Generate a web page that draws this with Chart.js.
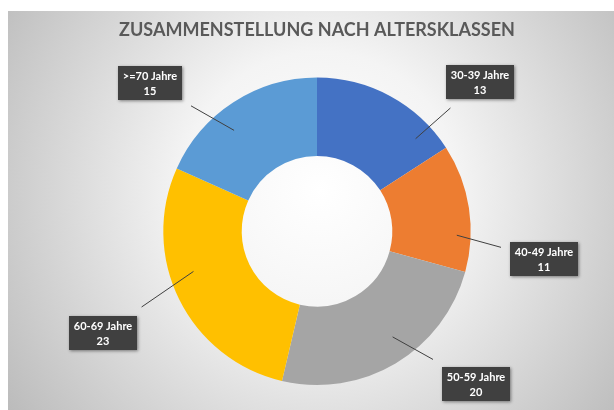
<!DOCTYPE html>
<html>
<head>
<meta charset="utf-8">
<script src="https://cdn.jsdelivr.net/npm/chart.js@4/dist/chart.umd.min.js"></script>
<style>
  html, body { margin: 0; padding: 0; background: #ffffff; }
  #wrap { width: 614px; height: 410px; position: relative; }
</style>
</head>
<body>
<div id="wrap"><canvas id="c" width="614" height="410"></canvas></div>
<script>
// ---- data ----
const titleText = 'ZUSAMMENSTELLUNG NACH ALTERSKLASSEN';
const categories = ['30-39 Jahre', '40-49 Jahre', '50-59 Jahre', '60-69 Jahre', '>=70 Jahre'];
const values = [13, 11, 20, 23, 15];
const colors = ['#4472C4', '#ED7D31', '#A5A5A5', '#FFC000', '#5B9BD5'];

// ---- label layout (polar, relative to the doughnut centre / outer radius) ----
const labelBoxPolar = [[47.5, 1.44], [97, 1.49], [133.7, 1.435], [244.5, 1.54], [311.7, 1.455]];
const leaderStartPolar = [[46.8, 0.88], [91.6, 0.91], [144.4, 0.845], [252, 0.845], [320.6, 0.85]];

const bgPlugin = {
  id: 'bg',
  beforeDraw(chart) {
    const ctx = chart.ctx;
    ctx.save();
    ctx.fillStyle = '#ffffff';
    ctx.fillRect(0, 0, chart.width, chart.height);
    const g = ctx.createRadialGradient(320, 190, 0, 320, 190, 460);
    g.addColorStop(0, '#ffffff');
    g.addColorStop(0.3, '#f4f4f4');
    g.addColorStop(1, '#a9a9a9');
    ctx.fillStyle = g;
    ctx.fillRect(8, 11, chart.width - 8, chart.height - 11);
    ctx.restore();
  }
};

function polar(cx, cy, deg, r) {
  const a = (deg - 90) * Math.PI / 180;
  return { x: cx + Math.cos(a) * r, y: cy + Math.sin(a) * r };
}

const labelPlugin = {
  id: 'boxLabels',
  afterDatasetsDraw(chart) {
    const ctx = chart.ctx;
    const meta = chart.getDatasetMeta(0);
    ctx.save();
    ctx.font = 'bold 11px Lato';
    meta.data.forEach((arc, i) => {
      const p = arc.getProps(['x', 'y', 'outerRadius'], true);
      const cx = p.x, cy = p.y, R = p.outerRadius;
      const line1 = chart.data.labels[i];
      const line2 = String(chart.data.datasets[0].data[i]);
      const tw = Math.max(ctx.measureText(line1).width, ctx.measureText(line2).width);
      const bw = Math.round(tw + 10), bh = 34;
      const c = polar(cx, cy, labelBoxPolar[i][0], R * labelBoxPolar[i][1]);
      const bx = Math.round(c.x - bw / 2), by = Math.round(c.y - bh / 2);
      // leader line
      const s = polar(cx, cy, leaderStartPolar[i][0], R * leaderStartPolar[i][1]);
      const dx = c.x - s.x, dy = c.y - s.y;
      const gap = 9;
      const x0 = bx - gap, x1 = bx + bw + gap, y0 = by - gap, y1 = by + bh + gap;
      let tx = dx > 0 ? (x0 - s.x) / dx : (x1 - s.x) / dx;
      let ty = dy > 0 ? (y0 - s.y) / dy : (y1 - s.y) / dy;
      const t = Math.max(tx, ty);
      ctx.strokeStyle = '#404040';
      ctx.lineWidth = 1;
      ctx.beginPath();
      ctx.moveTo(s.x, s.y);
      ctx.lineTo(s.x + dx * t, s.y + dy * t);
      ctx.stroke();
      // box
      ctx.save();
      ctx.shadowColor = 'rgba(0,0,0,0.45)';
      ctx.shadowBlur = 3;
      ctx.shadowOffsetX = 1;
      ctx.shadowOffsetY = 1;
      ctx.fillStyle = '#404040';
      ctx.fillRect(bx, by, bw, bh);
      ctx.restore();
      ctx.fillStyle = '#ffffff';
      ctx.textAlign = 'center';
      ctx.textBaseline = 'middle';
      ctx.fillText(line1, bx + bw / 2, by + 10);
      ctx.fillText(line2, bx + bw / 2, by + 25);
    });
    ctx.restore();
  }
};

Chart.defaults.font.family = 'Lato';

new Chart(document.getElementById('c'), {
  type: 'doughnut',
  data: {
    labels: categories,
    datasets: [{
      data: values,
      backgroundColor: colors,
      borderWidth: 0,
      hoverOffset: 0
    }]
  },
  options: {
    responsive: false,
    animation: false,
    cutout: '49%',
    layout: { padding: { top: 0, bottom: 25, left: 20, right: 0 } },
    plugins: {
      legend: { display: false },
      tooltip: { enabled: false },
      title: {
        display: true,
        text: titleText,
        color: '#595959',
        font: { family: 'Lato', size: 18, weight: 'bold' },
        padding: { top: 19, bottom: 37 }
      }
    }
  },
  plugins: [bgPlugin, labelPlugin]
});
</script>
</body>
</html>
